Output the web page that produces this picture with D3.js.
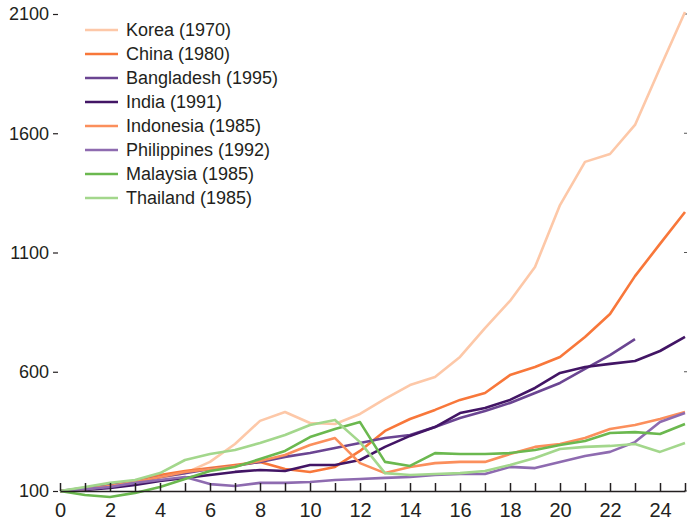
<!DOCTYPE html>
<html>
<head>
<meta charset="utf-8">
<script src="https://cdn.jsdelivr.net/npm/d3@7/dist/d3.min.js"></script>
<style>
  html, body { margin: 0; padding: 0; background: #fff; }
  svg { display: block; }
  text { font-family: "Liberation Sans Narrow", "Arial Narrow", "Liberation Sans", Arial, sans-serif; fill: #231f20; }
</style>
</head>
<body>
<div id="chart"></div>
<script>
// years since start (x axis), values indexed to 100
const years = d3.range(0, 26);

const korea      = [100,108,121,138,155,175,222,297,394,431,385,381,423,486,544,578,662,783,897,1039,1299,1480,1513,1635,1874,2108];
const china      = [100,108,121,142,167,184,196,209,222,192,180,201,268,352,402,440,482,511,586,620,662,746,842,1001,1136,1270];
const bangladesh = [100,113,125,138,159,175,192,205,222,243,259,280,301,322,335,368,406,435,469,511,553,612,670,737];
const india      = [100,104,113,125,142,155,167,180,188,184,209,209,230,285,331,368,427,448,482,532,595,620,633,645,687,746];
const indonesia  = [100,108,121,138,159,180,192,205,226,251,293,322,217,175,201,217,222,222,255,285,297,322,360,377,402,431];
const philippines= [100,108,117,134,146,159,129,121,134,134,138,146,150,155,159,167,171,171,201,196,222,247,264,305,389,427];
const malaysia   = [100,83,75,92,117,150,184,201,234,268,326,360,389,222,205,259,255,255,259,272,293,310,343,347,339,381];
const thailand   = [100,117,134,146,175,230,255,272,301,335,377,398,305,175,167,171,175,184,209,238,276,285,289,297,264,301];

const seriesNames  = ["Korea (1970)","China (1980)","Bangladesh (1995)","India (1991)","Indonesia (1985)","Philippines (1992)","Malaysia (1985)","Thailand (1985)"];
const seriesValues = [korea, china, bangladesh, india, indonesia, philippines, malaysia, thailand];
const seriesColors = ["#fdc8a8","#f8773a","#6b4592","#421565","#fb8f5c","#8e6bb0","#6bb84f","#a3d78c"];

const yTicks = [100, 600, 1100, 1600, 2100];
const xTicks = d3.range(0, 26);
const xLabels = d3.range(0, 25, 2);

const width = 687, height = 525;

const svg = d3.select("#chart").append("svg")
  .attr("width", width)
  .attr("height", height);

const x = d3.scaleLinear().domain([0, 25]).range([60, 685]);
const y = d3.scaleLinear().domain([100, 2100]).range([491, 14]);

// y axis: ticks + labels only, no spine
const yAxis = svg.append("g")
  .attr("transform", "translate(58,0)")
  .call(d3.axisLeft(y).tickValues(yTicks).tickSize(5).tickPadding(4).tickFormat(d3.format("d")));
yAxis.select(".domain").remove();
yAxis.selectAll("line").attr("stroke", "#231f20").attr("stroke-width", 1.2);
yAxis.selectAll("text").attr("font-size", 18).attr("fill", "#231f20");

// small marks on the right edge
svg.append("g")
  .selectAll("line")
  .data(yTicks)
  .join("line")
  .attr("x1", 684).attr("x2", 687)
  .attr("y1", d => y(d)).attr("y2", d => y(d))
  .attr("stroke", "#555").attr("stroke-width", 1);

// lines
const line = d3.line()
  .x((d, i) => x(years[i]))
  .y(d => y(d));

svg.append("g")
  .selectAll("path")
  .data(seriesValues)
  .join("path")
  .attr("fill", "none")
  .attr("stroke", (d, i) => seriesColors[i])
  .attr("stroke-width", 2.6)
  .attr("stroke-linejoin", "round")
  .attr("d", line);

// x axis: inward ticks at every year, labels at even years
const xAxis = svg.append("g")
  .attr("transform", `translate(0,${y(100)})`)
  .call(d3.axisBottom(x).tickValues(xTicks).tickSizeInner(-8).tickSizeOuter(0).tickPadding(12)
    .tickFormat(d => xLabels.includes(d) ? d : ""));
xAxis.select(".domain").attr("stroke", "#231f20").attr("stroke-width", 1.5);
xAxis.selectAll("line").attr("stroke", "#231f20").attr("stroke-width", 1.5);
xAxis.selectAll("text").attr("font-size", 20).attr("fill", "#231f20");

// legend
const legend = svg.append("g").attr("transform", "translate(85,30)");
const item = legend.selectAll("g")
  .data(seriesNames)
  .join("g")
  .attr("transform", (d, i) => `translate(0,${i * 24})`);
item.append("line")
  .attr("x1", 0).attr("x2", 33)
  .attr("stroke", (d, i) => seriesColors[i])
  .attr("stroke-width", 2.6);
item.append("text")
  .attr("x", 41)
  .attr("dy", "0.35em")
  .attr("font-size", 18)
  .text(d => d);
</script>
</body>
</html>
